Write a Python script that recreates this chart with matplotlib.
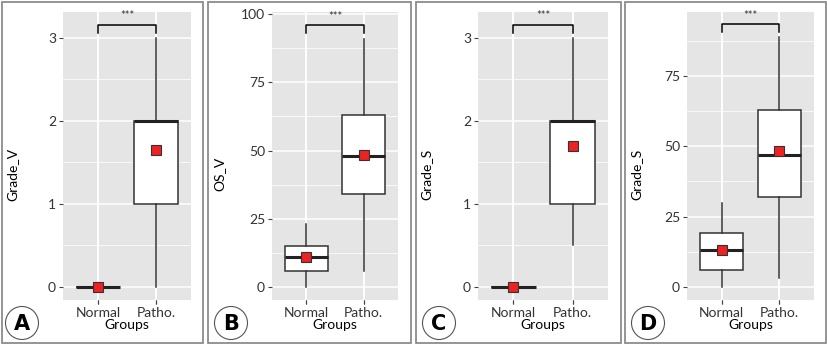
import matplotlib
matplotlib.use("Agg")
import matplotlib.pyplot as plt
from matplotlib.patches import Rectangle, Ellipse
import numpy as np

W, H = 827, 346
plt.rcParams['font.family'] = ['Lato', 'DejaVu Sans']

groups = ["Normal", "Patho."]

# box statistics per panel: [Normal, Patho.]
a_q1 = [0, 1];    a_med = [0, 2];    a_q3 = [0, 2];    a_lo = [0, 0];    a_hi = [0, 3];    a_mean = [0, 1.65]
b_q1 = [6, 34];   b_med = [11, 48];  b_q3 = [15, 63];  b_lo = [0, 6];    b_hi = [23, 91];  b_mean = [11, 48.5]
c_q1 = [0, 1];    c_med = [0, 2];    c_q3 = [0, 2];    c_lo = [0, 0.5];  c_hi = [0, 3];    c_mean = [0, 1.7]
d_q1 = [6, 32];   d_med = [13, 47];  d_q3 = [19, 63];  d_lo = [0, 3];    d_hi = [30, 89];  d_mean = [13, 48.2]

ylabels = ["Grade_V", "OS_V", "Grade_S", "Grade_S"]
letters = ["A", "B", "C", "D"]
yticks_all = [[0, 1, 2, 3], [0, 25, 50, 75, 100], [0, 1, 2, 3], [0, 25, 50, 75]]
brackets = [(3.06, 3.156), (93, 96), (3.06, 3.156), (90.7, 93.5)]
ylims = [(-0.16, 3.31), (-4.8, 100.8), (-0.16, 3.31), (-4.66, 97.8)]

panels = [
    (a_q1, a_med, a_q3, a_lo, a_hi, a_mean),
    (b_q1, b_med, b_q3, b_lo, b_hi, b_mean),
    (c_q1, c_med, c_q3, c_lo, c_hi, c_mean),
    (d_q1, d_med, d_q3, d_lo, d_hi, d_mean),
]

# pixel layout: axes (left, top, right, bottom), frame (left, right), label x, circle x
ax_px = [(63, 12, 191, 300), (272, 12, 398, 300), (478, 12, 608, 300), (687, 12, 814, 300)]
frame_px = [(1.5, 203), (208, 411), (416, 621), (625, 825.5)]
ylab_x = [18, 225, 432, 642]
circ_x = [22, 231, 439, 648]

fig = plt.figure(figsize=(W / 100, H / 100), dpi=100)
fig.patch.set_facecolor("white")

for i, stats in enumerate(panels):
    q1, med, q3, lo, hi, mean = stats
    l, t, r, b = ax_px[i]
    ax = fig.add_axes([l / W, 1 - b / H, (r - l) / W, (b - t) / H])
    ax.set_facecolor("#E5E5E5")
    for s in ax.spines.values():
        s.set_visible(False)

    yt = yticks_all[i]
    step = yt[1] - yt[0]
    ax.set_yticks(yt)
    ax.set_yticks([v + step / 2 for v in yt], minor=True)
    ax.set_xticks([1, 2])
    ax.set_xticklabels(groups)
    ax.set_xlim(0.4, 2.6)
    ax.set_ylim(*ylims[i])
    ax.grid(True, which="major", color="white", lw=1.1)
    ax.grid(True, which="minor", axis="y", color="white", lw=0.55)
    ax.set_axisbelow(True)
    ax.tick_params(which="major", length=3, width=0.8, color="#444444",
                   labelsize=10, labelcolor="#333333", pad=2)
    ax.tick_params(which="minor", length=0)

    bstats = []
    for k in range(2):
        bstats.append(dict(q1=q1[k], med=med[k], q3=q3[k], whislo=lo[k],
                           whishi=hi[k], fliers=[], label=groups[k]))
    ax.bxp(bstats, positions=[1, 2], widths=0.75, showcaps=False,
           showfliers=False, patch_artist=True,
           boxprops=dict(facecolor="white", edgecolor="#333333", lw=1.1),
           whiskerprops=dict(color="#333333", lw=1.1),
           medianprops=dict(color="#222222", lw=2.2, solid_capstyle="butt"))
    ax.plot([1, 2], mean, ls="none", marker="s", ms=7.5, mfc="#EE2222",
            mec="#333333", mew=0.8, zorder=5)

    # significance bracket
    y0, y1 = brackets[i]
    ax.plot([1, 1, 2, 2], [y0, y1, y1, y0], color="black", lw=1.1,
            clip_on=False, zorder=6)
    ax.text(1.5, y1 + (ylims[i][1] - ylims[i][0]) * 0.012, "***",
            ha="center", va="bottom", fontsize=8, color="#333333")

    ax.set_xlabel("Groups", fontsize=10, labelpad=0)
    ax.set_ylabel(ylabels[i], fontsize=10)
    ax.yaxis.set_label_coords((ylab_x[i] - l) / (r - l), (b - 174) / (b - t))

    # panel frame and letter badge
    fl, fr = frame_px[i]
    fig.patches.append(Rectangle((fl / W, 1 - 343 / H), (fr - fl) / W, 341.5 / H,
                                 transform=fig.transFigure, fill=False,
                                 edgecolor="#8C8C8C", lw=1.3))
    fig.patches.append(Ellipse((circ_x[i] / W, 1 - 323 / H), 33 / W, 33 / H,
                               transform=fig.transFigure, fill=False,
                               edgecolor="#555555", lw=0.8))
    fig.text(circ_x[i] / W, 1 - 323.5 / H, letters[i], ha="center", va="center",
             fontsize=15, fontweight="bold", color="black",
             family=["DejaVu Sans"])

fig.savefig("out.png", dpi=100)
